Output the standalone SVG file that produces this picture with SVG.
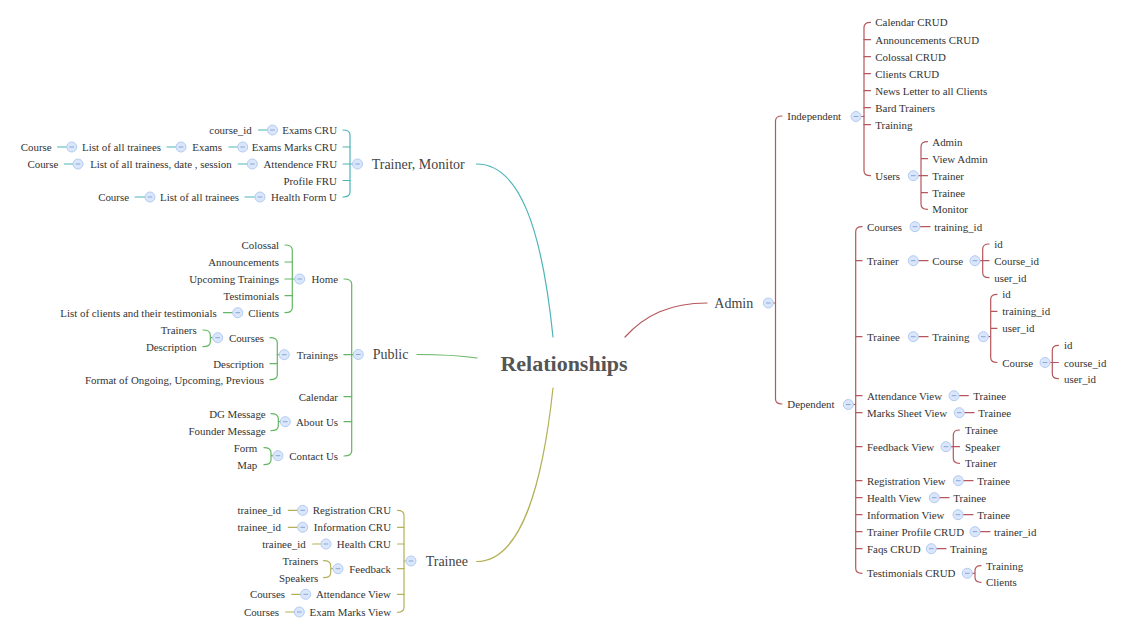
<svg xmlns="http://www.w3.org/2000/svg" width="1131" height="636" viewBox="0 0 1131 636">
<style>
text{font-family:"Liberation Serif","DejaVu Serif",serif;font-size:10.9px;fill:#333;dominant-baseline:central}
.L{text-anchor:end}
.R{text-anchor:start}
.b1{font-size:14px;fill:#444}
.title{font-size:22px;font-weight:bold;fill:#555;text-anchor:middle}
.c path{fill:none;stroke-width:1.2;stroke-linecap:round}
.teal path{stroke:#4db4b8}
.green path{stroke:#63b663}
.olive path{stroke:#b4b158}
.red path{stroke:#b5575c}
</style>
<defs>
<g id="btn"><circle r="5" fill="#dae6fb" stroke="#b3cbf1" stroke-width="1"/><line x1="-2.3" x2="2.3" y1="0" y2="0" stroke="#8aa6d4" stroke-width="1"/></g>
</defs>
<rect width="1131" height="636" fill="#ffffff"/>
<g id="connectors" class="c">
<g class="teal">
<path d="M476.5,164 C520,164 542,230 553,337"/>
<path d="M343,164 H352.5"/>
<path d="M343,130 Q350,130 350,135 V192 Q350,197 343,197"/>
<path d="M343,147 H350 M343,180.5 H350"/>
<path d="M258.5,130 H267.5 M229,147 H237.7 M167,147 H176 M57.5,147 H66.7 M238.3,164 H247.3 M64.3,164 H73 M245,197 H255 M135,197 H145"/>
</g>
<g class="green">
<path d="M417,354.5 C440,354.5 460,355.5 477,358"/>
<path d="M344,279 Q351.7,279 351.7,284 V451 Q351.7,456 344,456"/>
<path d="M344,354.7 H353.3 M344,396.7 H351.7 M344,421.7 H351.7"/>
<path d="M285,245 Q292.3,245 292.3,250 V307.7 Q292.3,312.7 285,312.7"/>
<path d="M285,262 H292.3 M285,279 H294.7 M285,295.7 H292.3"/>
<path d="M223.5,312.7 H232.7"/>
<path d="M270,337.7 Q277.3,337.7 277.3,342.7 V374.7 Q277.3,379.7 270,379.7"/>
<path d="M270,363.7 H277.3 M277.3,354.7 H279.3"/>
<path d="M203,330 Q210.3,330 210.3,335 V341.7 Q210.3,346.7 203,346.7 M210.3,337.7 H212.7"/>
<path d="M271,413.7 Q278.3,413.7 278.3,418.7 V425.7 Q278.3,430.7 271,430.7 M278.3,421.7 H280.3"/>
<path d="M264,447.7 Q271,447.7 271,452.7 V459.7 Q271,464.7 264,464.7 M271,455.7 H273"/>
</g>
<g class="olive">
<path d="M553,388 C542,490 520,561.5 476.5,561.5"/>
<path d="M397.5,510.3 Q404,510.3 404,515.3 V607.3 Q404,612.3 397.5,612.3"/>
<path d="M397.5,527.3 H404 M397.5,544 H404 M397.5,568.7 H404 M397.5,594.3 H404 M404,561 H406"/>
<path d="M288.3,510.3 H297.7 M288.3,527.3 H297.7 M312.7,544 H321 M291.7,594.3 H300.7 M285.7,612 H294.3"/>
<path d="M323.5,560.7 Q330.7,560.7 330.7,565.7 V572.7 Q330.7,577.7 323.5,577.7 M330.7,568.7 H333"/>
</g>
<g class="red">
<path d="M625,337 C645,315 670,303 707,303"/>
<path d="M773.3,303 H775.5"/>
<path d="M782,116 Q775.5,116 775.5,121 V399 Q775.5,404 782,404"/>
<path d="M861,116.5 H864"/>
<path d="M870.5,22.3 Q864,22.3 864,27.3 V170.7 Q864,175.7 870.5,175.7"/>
<path d="M864,39.7 H870.5 M864,56.7 H870.5 M864,73.7 H870.5 M864,90.7 H870.5 M864,107.7 H870.5 M864,124.7 H870.5"/>
<path d="M918.3,175.7 H921 M927.5,141.7 Q921,141.7 921,146.7 V204.3 Q921,209.3 927.5,209.3 M921,158.7 H927.5 M921,175.7 H927.5 M921,192.7 H927.5"/>
<path d="M853.3,404.5 H855.7 M862,226.7 Q855.7,226.7 855.7,231.7 V568.3 Q855.7,573.3 862,573.3"/>
<path d="M855.7,260.7 H862 M855.7,336.7 H862 M855.7,395.7 H862 M855.7,412.7 H862 M855.7,446.7 H862 M855.7,480.7 H862 M855.7,497.7 H862 M855.7,514.7 H862 M855.7,531.7 H862 M855.7,548.7 H862"/>
<path d="M920,226.7 H930"/>
<path d="M918.3,260.7 H928 M980,260.7 H982.7 M989,244 Q982.7,244 982.7,249 V272.7 Q982.7,277.7 989,277.7 M982.7,260.7 H989"/>
<path d="M918.3,336.7 H928 M988.3,336.7 H990.7 M997,294.3 Q990.7,294.3 990.7,299.3 V357.5 Q990.7,362.5 997,362.5 M990.7,311.3 H997 M990.7,328.3 H997"/>
<path d="M1050,362.5 H1052.3 M1058.5,345.3 Q1052.3,345.3 1052.3,350.3 V373.7 Q1052.3,378.7 1058.5,378.7 M1052.3,362.5 H1058.5"/>
<path d="M959,395.7 H968.3 M964.3,412.7 H974"/>
<path d="M951,446.7 H953.3 M959.5,430 Q953.3,430 953.3,435 V458.3 Q953.3,463.3 959.5,463.3 M953.3,446.7 H959.5"/>
<path d="M963.3,480.7 H973 M939.3,497.7 H949 M963,514.7 H973 M980,531.7 H990 M936.3,548.7 H946"/>
<path d="M972.3,573.3 H975 M981,565.7 Q975,565.7 975,570.7 V577.3 Q975,582.3 981,582.3"/>
</g>
</g>
<g id="root"><text class="title" x="564" y="363">Relationships</text></g>
<g id="trainer-monitor"><text class="R b1" x="371.7" y="164">Trainer, Monitor</text><use href="#btn" x="357.5" y="164"/></g>
<g id="exams-cru"><text class="L" x="337" y="130">Exams CRU</text><use href="#btn" x="272.5" y="130"/></g>
<g id="tm-course-id"><text class="L" x="251.7" y="130">course_id</text></g>
<g id="exams-marks-cru"><text class="L" x="337" y="147">Exams Marks CRU</text><use href="#btn" x="242.7" y="147"/></g>
<g id="tm-exams"><text class="L" x="222" y="147">Exams</text><use href="#btn" x="181" y="147"/></g>
<g id="tm-list-1"><text class="L" x="161" y="147">List of all trainees</text><use href="#btn" x="71.7" y="147"/></g>
<g id="tm-course-1"><text class="L" x="51.7" y="147">Course</text></g>
<g id="attendence-fru"><text class="L" x="337" y="164">Attendence FRU</text><use href="#btn" x="252.3" y="164"/></g>
<g id="tm-list-2"><text class="L" x="231.7" y="164">List of all trainess, date , session</text><use href="#btn" x="78" y="164"/></g>
<g id="tm-course-2"><text class="L" x="58.3" y="164">Course</text></g>
<g id="profile-fru"><text class="L" x="337" y="180.5">Profile FRU</text></g>
<g id="health-form-u"><text class="L" x="337" y="197">Health Form U</text><use href="#btn" x="260" y="197"/></g>
<g id="tm-list-3"><text class="L" x="239" y="197">List of all trainees</text><use href="#btn" x="150" y="197"/></g>
<g id="tm-course-3"><text class="L" x="129" y="197">Course</text></g>
<g id="public"><text class="R b1" x="372.7" y="354.5">Public</text><use href="#btn" x="358.3" y="354.5"/></g>
<g id="home"><text class="L" x="338" y="279">Home</text><use href="#btn" x="299.7" y="279"/></g>
<g id="p-colossal"><text class="L" x="279" y="245">Colossal</text></g>
<g id="p-announcements"><text class="L" x="279" y="262">Announcements</text></g>
<g id="p-upcoming"><text class="L" x="279" y="279">Upcoming Trainings</text></g>
<g id="p-testimonials"><text class="L" x="279" y="295.7">Testimonials</text></g>
<g id="p-clients"><text class="L" x="279" y="312.7">Clients</text><use href="#btn" x="237.7" y="312.7"/></g>
<g id="p-list-clients"><text class="L" x="216.7" y="312.7">List of clients and their testimonials</text></g>
<g id="trainings"><text class="L" x="338" y="354.7">Trainings</text><use href="#btn" x="284.3" y="354.7"/></g>
<g id="p-courses"><text class="L" x="264" y="337.7">Courses</text><use href="#btn" x="217.7" y="337.7"/></g>
<g id="p-trainers"><text class="L" x="196.7" y="330">Trainers</text></g>
<g id="p-description-1"><text class="L" x="196.7" y="346.7">Description</text></g>
<g id="p-description-2"><text class="L" x="264" y="363.7">Description</text></g>
<g id="p-format"><text class="L" x="264" y="379.7">Format of Ongoing, Upcoming, Previous</text></g>
<g id="calendar"><text class="L" x="338" y="396.7">Calendar</text></g>
<g id="about-us"><text class="L" x="338" y="421.7">About Us</text><use href="#btn" x="285.3" y="421.7"/></g>
<g id="p-dg"><text class="L" x="265.7" y="413.7">DG Message</text></g>
<g id="p-founder"><text class="L" x="265.7" y="430.7">Founder Message</text></g>
<g id="contact-us"><text class="L" x="338" y="455.7">Contact Us</text><use href="#btn" x="278" y="455.7"/></g>
<g id="p-form"><text class="L" x="257.3" y="447.7">Form</text></g>
<g id="p-map"><text class="L" x="257.3" y="464.7">Map</text></g>
<g id="trainee"><text class="R b1" x="425.7" y="561">Trainee</text><use href="#btn" x="411" y="561"/></g>
<g id="registration-cru"><text class="L" x="391" y="510.3">Registration CRU</text><use href="#btn" x="302.7" y="510.3"/></g>
<g id="t-tid-1"><text class="L" x="281" y="510.3">trainee_id</text></g>
<g id="information-cru"><text class="L" x="391" y="527.3">Information CRU</text><use href="#btn" x="302.7" y="527.3"/></g>
<g id="t-tid-2"><text class="L" x="281" y="527.3">trainee_id</text></g>
<g id="health-cru"><text class="L" x="391" y="544">Health CRU</text><use href="#btn" x="326" y="544"/></g>
<g id="t-tid-3"><text class="L" x="305.7" y="544">trainee_id</text></g>
<g id="feedback"><text class="L" x="391" y="568.7">Feedback</text><use href="#btn" x="338" y="568.7"/></g>
<g id="t-trainers"><text class="L" x="318.3" y="560.7">Trainers</text></g>
<g id="t-speakers"><text class="L" x="318.3" y="577.7">Speakers</text></g>
<g id="attendance-view-t"><text class="L" x="391" y="594.3">Attendance View</text><use href="#btn" x="305.7" y="594.3"/></g>
<g id="t-courses-1"><text class="L" x="285" y="594.3">Courses</text></g>
<g id="exam-marks-view"><text class="L" x="391" y="612">Exam Marks View</text><use href="#btn" x="299.3" y="612"/></g>
<g id="t-courses-2"><text class="L" x="279" y="612">Courses</text></g>
<g id="admin"><text class="R b1" x="714.3" y="303">Admin</text><use href="#btn" x="768.3" y="303"/></g>
<g id="independent"><text class="R" x="787.3" y="116">Independent</text><use href="#btn" x="856" y="116.5"/></g>
<g id="i-calendar"><text class="R" x="875.3" y="22.3">Calendar CRUD</text></g>
<g id="i-announcements"><text class="R" x="875.3" y="39.7">Announcements CRUD</text></g>
<g id="i-colossal"><text class="R" x="875.3" y="56.7">Colossal CRUD</text></g>
<g id="i-clients"><text class="R" x="875.3" y="73.7">Clients CRUD</text></g>
<g id="i-newsletter"><text class="R" x="875.3" y="90.7">News Letter to all Clients</text></g>
<g id="i-bard"><text class="R" x="875.3" y="107.7">Bard Trainers</text></g>
<g id="i-training"><text class="R" x="875.3" y="124.7">Training</text></g>
<g id="users"><text class="R" x="875.3" y="175.7">Users</text><use href="#btn" x="913.3" y="175.7"/></g>
<g id="u-admin"><text class="R" x="932.3" y="141.7">Admin</text></g>
<g id="u-view-admin"><text class="R" x="932.3" y="158.7">View Admin</text></g>
<g id="u-trainer"><text class="R" x="932.3" y="175.7">Trainer</text></g>
<g id="u-trainee"><text class="R" x="932.3" y="192.7">Trainee</text></g>
<g id="u-monitor"><text class="R" x="932.3" y="209.3">Monitor</text></g>
<g id="dependent"><text class="R" x="787.3" y="404">Dependent</text><use href="#btn" x="848.3" y="404.5"/></g>
<g id="d-courses"><text class="R" x="867" y="226.7">Courses</text><use href="#btn" x="915" y="226.7"/></g>
<g id="d-training-id-1"><text class="R" x="934.3" y="226.7">training_id</text></g>
<g id="d-trainer"><text class="R" x="867" y="260.7">Trainer</text><use href="#btn" x="913.3" y="260.7"/></g>
<g id="d-trainer-course"><text class="R" x="932.3" y="260.7">Course</text><use href="#btn" x="975" y="260.7"/></g>
<g id="d-id-1"><text class="R" x="994.3" y="244">id</text></g>
<g id="d-course-id-1"><text class="R" x="994.3" y="260.7">Course_id</text></g>
<g id="d-user-id-1"><text class="R" x="994.3" y="277.7">user_id</text></g>
<g id="d-trainee"><text class="R" x="867" y="336.7">Trainee</text><use href="#btn" x="913.3" y="336.7"/></g>
<g id="d-training"><text class="R" x="932.3" y="336.7">Training</text><use href="#btn" x="983.3" y="336.7"/></g>
<g id="d-id-2"><text class="R" x="1002.3" y="294.3">id</text></g>
<g id="d-training-id-2"><text class="R" x="1002.3" y="311.3">training_id</text></g>
<g id="d-user-id-2"><text class="R" x="1002.3" y="328.3">user_id</text></g>
<g id="d-course-2"><text class="R" x="1002.3" y="362.5">Course</text><use href="#btn" x="1045" y="362.5"/></g>
<g id="d-id-3"><text class="R" x="1064" y="345.3">id</text></g>
<g id="d-course-id-3"><text class="R" x="1064" y="362.5">course_id</text></g>
<g id="d-user-id-3"><text class="R" x="1064" y="378.7">user_id</text></g>
<g id="d-attendance-view"><text class="R" x="867" y="395.7">Attendance View</text><use href="#btn" x="954" y="395.7"/></g>
<g id="d-av-trainee"><text class="R" x="973.3" y="395.7">Trainee</text></g>
<g id="d-marks-sheet"><text class="R" x="867" y="412.7">Marks Sheet View</text><use href="#btn" x="959.3" y="412.7"/></g>
<g id="d-ms-trainee"><text class="R" x="978.3" y="412.7">Trainee</text></g>
<g id="d-feedback-view"><text class="R" x="867" y="446.7">Feedback View</text><use href="#btn" x="946" y="446.7"/></g>
<g id="d-fv-trainee"><text class="R" x="965" y="430">Trainee</text></g>
<g id="d-fv-speaker"><text class="R" x="965" y="446.7">Speaker</text></g>
<g id="d-fv-trainer"><text class="R" x="965" y="463.3">Trainer</text></g>
<g id="d-registration-view"><text class="R" x="867" y="480.7">Registration View</text><use href="#btn" x="958.3" y="480.7"/></g>
<g id="d-rv-trainee"><text class="R" x="977.3" y="480.7">Trainee</text></g>
<g id="d-health-view"><text class="R" x="867" y="497.7">Health View</text><use href="#btn" x="934.3" y="497.7"/></g>
<g id="d-hv-trainee"><text class="R" x="953.3" y="497.7">Trainee</text></g>
<g id="d-information-view"><text class="R" x="867" y="514.7">Information View</text><use href="#btn" x="958" y="514.7"/></g>
<g id="d-iv-trainee"><text class="R" x="977.3" y="514.7">Trainee</text></g>
<g id="d-trainer-profile"><text class="R" x="867" y="531.7">Trainer Profile CRUD</text><use href="#btn" x="975" y="531.7"/></g>
<g id="d-trainer-id"><text class="R" x="994" y="531.7">trainer_id</text></g>
<g id="d-faqs"><text class="R" x="867" y="548.7">Faqs CRUD</text><use href="#btn" x="931.3" y="548.7"/></g>
<g id="d-faqs-training"><text class="R" x="950" y="548.7">Training</text></g>
<g id="d-testimonials"><text class="R" x="867" y="573.3">Testimonials CRUD</text><use href="#btn" x="967.3" y="573.3"/></g>
<g id="d-tc-training"><text class="R" x="986" y="565.7">Training</text></g>
<g id="d-tc-clients"><text class="R" x="986" y="582.3">Clients</text></g>
</svg>
